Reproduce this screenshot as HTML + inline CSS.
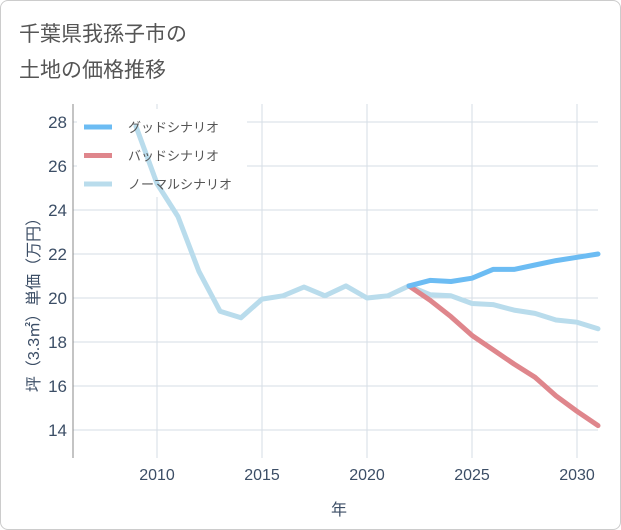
<!DOCTYPE html>
<html><head><meta charset="utf-8">
<style>
body{margin:0;background:#fff;font-family:"Liberation Sans","Noto Sans CJK JP",sans-serif;}
#wrap{position:relative;width:619px;height:528px;border:1px solid #ccc;border-radius:8px;overflow:hidden;}
</style></head><body>
<div id="wrap">
<svg id="chart" width="621" height="530"></svg>
</div>
<script>
const years=[2009,2010,2011,2012,2013,2014,2015,2016,2017,2018,2019,2020,2021,2022,2023,2024,2025,2026,2027,2028,2029,2030,2031];
const normalVals=[27.8,25.2,23.7,21.2,19.4,19.1,19.95,20.1,20.5,20.1,20.55,20.0,20.1,20.55,20.15,20.1,19.75,19.7,19.45,19.3,19.0,18.9,18.6];
const futureYears=[2022,2023,2024,2025,2026,2027,2028,2029,2030,2031];
const goodVals=[20.55,20.8,20.75,20.9,21.3,21.3,21.5,21.7,21.85,22.0];
const badVals=[20.55,19.9,19.15,18.3,17.65,17.0,16.4,15.55,14.85,14.2];
const xTicks=[2010,2015,2020,2025,2030];
const yTicks=[14,16,18,20,22,24,26,28];
const legendLabels=["グッドシナリオ","バッドシナリオ","ノーマルシナリオ"];
const colors=["#6cbcf3","#df868c","#b9dcec"];

const NS="http://www.w3.org/2000/svg";
const svg=document.getElementById('chart');
const L=72,R=597,T=103,B=457;
const x=v=>L+(v-2006)/(2031-2006)*(R-L);
const y=v=>121+(28-v)*22;
function el(tag,attrs,parent){const e=document.createElementNS(NS,tag);for(const k in attrs)e.setAttribute(k,attrs[k]);(parent||svg).appendChild(e);return e;}

let t=el('text',{x:18,y:40,'font-size':21,fill:'#555'});t.textContent='千葉県我孫子市の';

t=el('text',{x:18,y:76,'font-size':21,fill:'#555'});t.textContent='土地の価格推移';


yTicks.forEach(v=>{
  const g=el('line',{x1:L,x2:R,y1:y(v),y2:y(v),stroke:'#d5dde5','stroke-width':1});
  
  const tx=el('text',{x:L-6,y:y(v)+6,'text-anchor':'end','font-size':17,fill:'#3c4e66'});tx.textContent=v;
  
});
xTicks.forEach(v=>{
  const g=el('line',{x1:x(v),x2:x(v),y1:T,y2:B,stroke:'#d5dde5','stroke-width':1});
  
  const tx=el('text',{x:x(v),y:B+22,'text-anchor':'middle','font-size':16,fill:'#3c4e66'});tx.textContent=v;
  
});
let ax=el('line',{x1:L,x2:L,y1:T,y2:B,stroke:'#888','stroke-width':1});


t=el('text',{x:338,y:514,'text-anchor':'middle','font-size':16,fill:'#3c4e66'});t.textContent='年';

t=el('text',{x:0,y:0,'text-anchor':'middle','font-size':16,fill:'#3c4e66',transform:'translate(38,300) rotate(-90)'});t.textContent='坪（3.3㎡）単価（万円）';


const lg=el('rect',{x:76,y:108,width:170,height:88,fill:'#fff'});


function line(xs,vs,c,name){
  const p=el('polyline',{points:xs.map((v,i)=>x(v)+','+y(vs[i])).join(' '),fill:'none',stroke:c,'stroke-width':5,'stroke-linejoin':'round','stroke-linecap':'round'});
  
}
line(years,normalVals,colors[2],'normal-scenario-line');
line(futureYears,badVals,colors[1],'bad-scenario-line');
line(futureYears,goodVals,colors[0],'good-scenario-line');

legendLabels.forEach((s,i)=>{
  const yy=126+i*28.5;
  const r=el('line',{x1:83,x2:111,y1:yy,y2:yy,stroke:colors[i],'stroke-width':5});
  
  const tx=el('text',{x:127,y:yy+5,'font-size':13,fill:'#555'});tx.textContent=s;
  
});
</script>
</body></html>
